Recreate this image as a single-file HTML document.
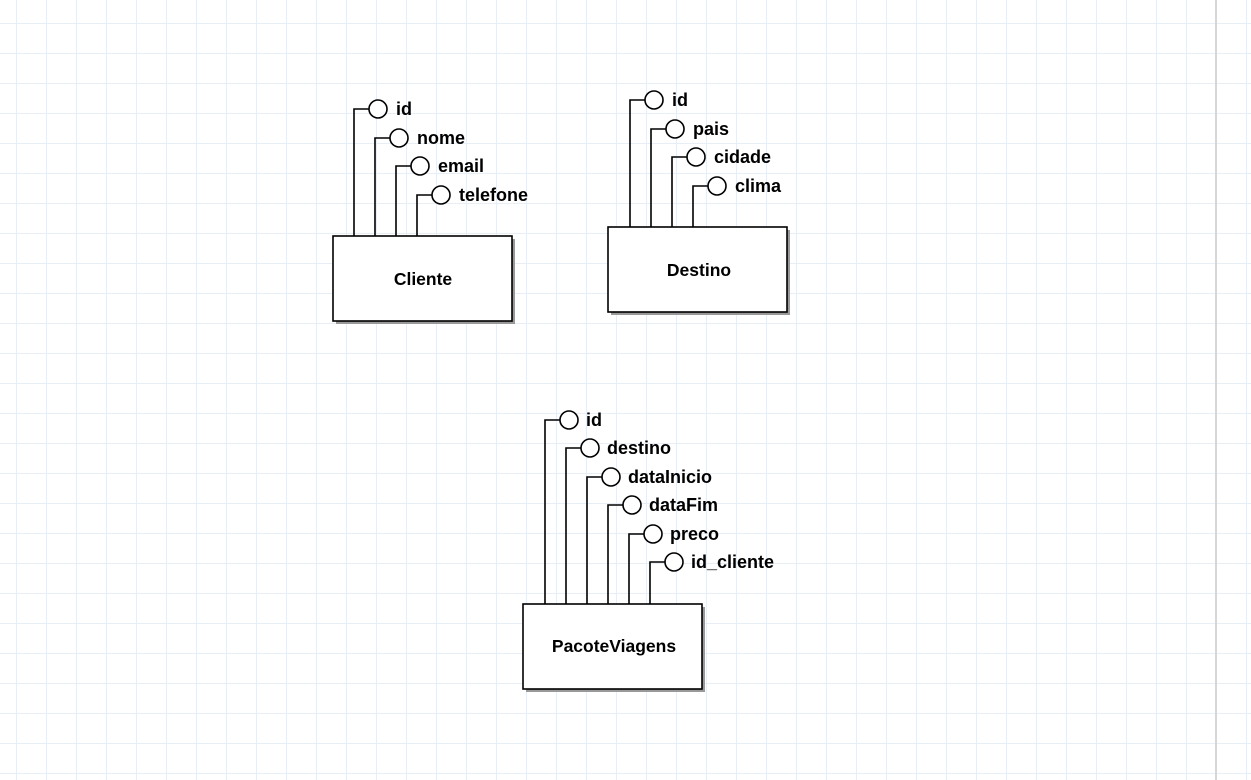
<!DOCTYPE html>
<html><head><style>
html,body{margin:0;padding:0;background:#fff}
svg{display:block}
text{font-family:"Liberation Sans",Arial,sans-serif;font-weight:bold;font-size:18px;fill:#000}
text.e{font-size:17.5px}
</style></head><body>
<svg width="1251" height="780" xmlns="http://www.w3.org/2000/svg">
<defs>
<pattern id="g" x="16" y="23" width="30" height="30" patternUnits="userSpaceOnUse">
<path d="M0.5 0V30M0 0.5H30" stroke="#e8eef6" stroke-width="1" fill="none"/>
</pattern>
</defs>
<rect width="1251" height="780" fill="url(#g)"/>
<rect x="1215" y="0" width="2" height="780" fill="#d6d6d6"/>
<g stroke="#000" stroke-width="1.6" fill="#fff">
<rect x="336" y="239" width="179" height="85" fill="#999" stroke="none"/>
<rect x="333" y="236" width="179" height="85"/>
<path d="M354 236V109H369M375 236V138H390M396 236V166H411M417 236V195H432" fill="none"/>
<circle cx="378" cy="109" r="9"/><circle cx="399" cy="138" r="9"/><circle cx="420" cy="166" r="9"/><circle cx="441" cy="195" r="9"/>
<rect x="611" y="230" width="179" height="85" fill="#999" stroke="none"/>
<rect x="608" y="227" width="179" height="85"/>
<path d="M630 227V100H645M651 227V129H666M672 227V157H687M693 227V186H708" fill="none"/>
<circle cx="654" cy="100" r="9"/><circle cx="675" cy="129" r="9"/><circle cx="696" cy="157" r="9"/><circle cx="717" cy="186" r="9"/>
<rect x="526" y="607" width="179" height="85" fill="#999" stroke="none"/>
<rect x="523" y="604" width="179" height="85"/>
<path d="M545 604V420H560M566 604V448H581M587 604V477H602M608 604V505H623M629 604V534H644M650 604V562H665" fill="none"/>
<circle cx="569" cy="420" r="9"/><circle cx="590" cy="448" r="9"/><circle cx="611" cy="477" r="9"/><circle cx="632" cy="505" r="9"/><circle cx="653" cy="534" r="9"/><circle cx="674" cy="562" r="9"/>
</g>
<text x="396" y="115">id</text><text x="417" y="144">nome</text><text x="438" y="172">email</text><text x="459" y="201">telefone</text>
<text class="e" x="423" y="285" text-anchor="middle">Cliente</text>
<text x="672" y="106">id</text><text x="693" y="135">pais</text><text x="714" y="163">cidade</text><text x="735" y="192">clima</text>
<text class="e" x="699" y="276" text-anchor="middle">Destino</text>
<text x="586" y="426">id</text><text x="607" y="454">destino</text><text x="628" y="483">dataInicio</text><text x="649" y="511">dataFim</text><text x="670" y="540">preco</text><text x="691" y="568">id_cliente</text>
<text class="e" x="614" y="652" text-anchor="middle">PacoteViagens</text>
</svg>
</body></html>
